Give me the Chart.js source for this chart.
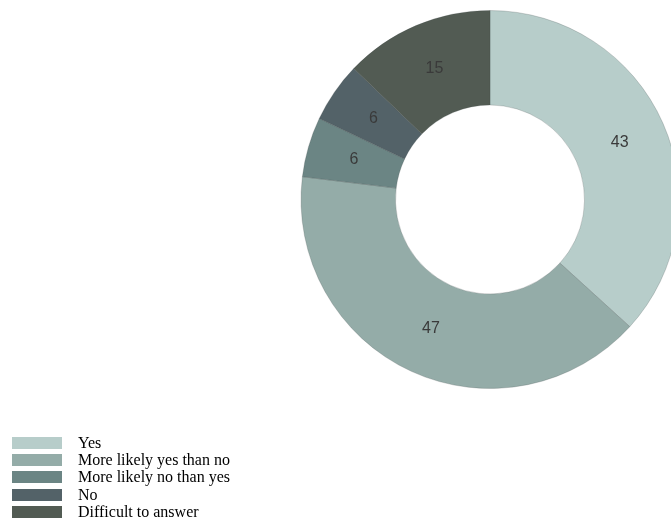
<!DOCTYPE html>
<html>
<head>
<meta charset="utf-8">
<title>Answers</title>
<script src="https://cdn.jsdelivr.net/npm/chart.js@4/dist/chart.umd.min.js"></script>
<style>
  html, body { margin: 0; padding: 0; background: #fff; overflow: hidden; }
  #wrap { position: relative; width: 671px; height: 520px; overflow: hidden; }
  #answers { position: absolute; left: 0; top: 0; }
  #legend {
    position: absolute; left: 12px; top: 434px;
    font-family: "Liberation Serif", "Times New Roman", serif;
    font-size: 16px; color: #000;
  }
  #legend ul { list-style: none; margin: 0; padding: 0; }
  #legend li { display: flex; align-items: center; height: 17.3px; white-space: nowrap; }
  #legend .box { display: inline-block; width: 50px; height: 12px; margin-right: 16px; }
</style>
</head>
<body>
<div id="wrap">
  <canvas id="answers" width="980" height="520"></canvas>
  <div id="legend"></div>
</div>
<script>
const answerLabels = ['Yes', 'More likely yes than no', 'More likely no than yes', 'No', 'Difficult to answer'];
const answerShares = [43, 47, 6, 6, 15];
const answerColors = ['#b7cdca', '#94aca8', '#6b8584', '#536268', '#525b53'];

// value text in the middle of each slice
const sliceLabels = {
  id: 'sliceLabels',
  afterDatasetsDraw(chart) {
    const ctx = chart.ctx;
    const meta = chart.getDatasetMeta(0);
    ctx.save();
    ctx.font = '16px "Liberation Sans", Arial, sans-serif';
    ctx.fillStyle = '#3a3a3a';
    ctx.textAlign = 'center';
    ctx.textBaseline = 'middle';
    meta.data.forEach((arc, i) => {
      const p = arc.tooltipPosition();
      ctx.fillText(String(answerShares[i]), p.x, p.y);
    });
    ctx.restore();
  }
};

// html legend stacked at the bottom left
const htmlLegend = {
  id: 'htmlLegend',
  afterUpdate(chart) {
    const box = document.getElementById('legend');
    box.innerHTML = '';
    const ul = document.createElement('ul');
    const items = chart.options.plugins.legend.labels.generateLabels(chart);
    items.forEach(item => {
      const li = document.createElement('li');
      const sw = document.createElement('span');
      sw.className = 'box';
      sw.style.background = item.fillStyle;
      li.appendChild(sw);
      li.appendChild(document.createTextNode(item.text));
      ul.appendChild(li);
    });
    box.appendChild(ul);
  }
};

new Chart(document.getElementById('answers'), {
  type: 'doughnut',
  data: {
    labels: answerLabels,
    datasets: [{
      data: answerShares,
      backgroundColor: answerColors,
      borderColor: 'rgba(60, 70, 70, 0.22)',
      borderWidth: 1
    }]
  },
  options: {
    responsive: false,
    animation: false,
    cutout: '50%',
    layout: { padding: { top: 10, bottom: 131, left: 0, right: 0 } },
    plugins: {
      legend: { display: false },
      tooltip: { enabled: false }
    }
  },
  plugins: [sliceLabels, htmlLegend]
});
</script>
</body>
</html>
